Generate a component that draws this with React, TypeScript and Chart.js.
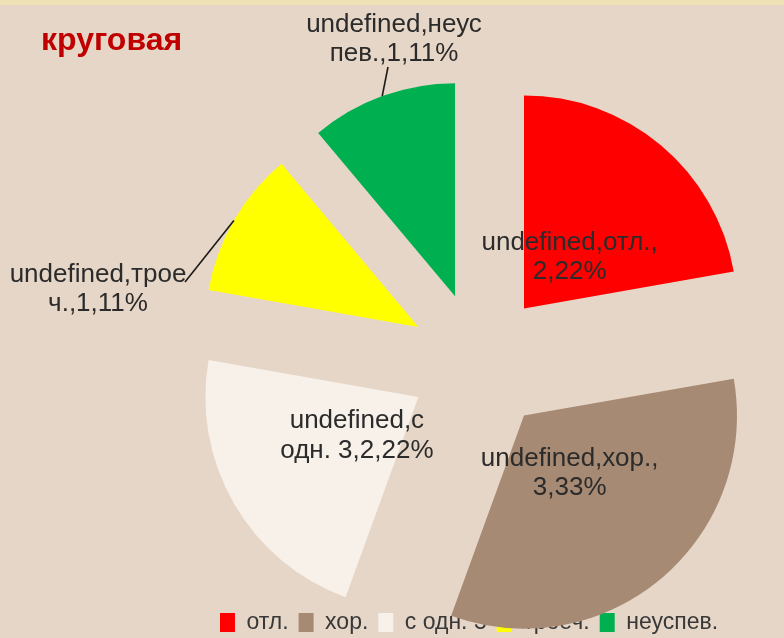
import React, { useEffect, useRef } from 'react';
import { Chart, ArcElement, PieController, registerables } from 'chart.js';

// ---- data ----
const chartTitle = 'круговая';
const seriesName = 'undefined';
const categories = ['отл.', 'хор.', 'с одн. 3', 'троеч.', 'неуспев.'];
const values = [2, 3, 2, 1, 1];
const sliceColors = ['#FF0000', '#A68A74', '#F8F1EA', '#FFFF00', '#00B050'];

// ---- style ----
const FONT = '"Liberation Sans", Arial, Helvetica, sans-serif';
const BG = '#E6D6C7';
const LABEL_COLOR = '#2b2b2b';
const LABEL_SIZE = 26;
const LABEL_LINE = 29.5;
const LABEL_DY = 3.5;
const WRAP_WIDTH = 184;

// placement of labels that sit outside their slice (relative to pie centre)
const outsidePlacement: Record<number, { label: [number, number]; lead: [number, number] }> = {
  3: { label: [-381, -76], lead: [-294, -80] },
  4: { label: [-85, -326], lead: [-91, -295] },
};

// Exploded slice: translate by full offset, keep radius and angle.
class ExplodedArc extends ArcElement {
  static id = 'explodedArc';
  draw(ctx: CanvasRenderingContext2D) {
    const self = this as any;
    const { x, y, startAngle, endAngle, outerRadius } = self;
    const opts = self.options;
    const shift = opts.offset || 0;
    const mid = (startAngle + endAngle) / 2;
    ctx.save();
    ctx.translate(Math.cos(mid) * shift, Math.sin(mid) * shift);
    ctx.beginPath();
    ctx.moveTo(x, y);
    ctx.arc(x, y, outerRadius, startAngle, endAngle);
    ctx.closePath();
    ctx.fillStyle = opts.backgroundColor;
    ctx.fill();
    ctx.restore();
  }
}

class ExplodedPieController extends PieController {
  static id = 'explodedPie';
  static defaults = { dataElementType: 'explodedArc' };
}

Chart.register(...registerables, ExplodedArc as any, ExplodedPieController as any);

function wrapText(ctx: CanvasRenderingContext2D, text: string, maxW: number): string[] {
  const lines: string[] = [];
  let line = '';
  for (const ch of Array.from(text)) {
    const test = line + ch;
    if (line && ctx.measureText(test).width > maxW) {
      const sp = line.lastIndexOf(' ');
      if (sp > 0) {
        lines.push(line.slice(0, sp));
        line = line.slice(sp + 1) + ch;
      } else {
        lines.push(line);
        line = ch;
      }
    } else {
      line = test;
    }
  }
  if (line) lines.push(line);
  return lines;
}

const labelPlugin = {
  id: 'sliceLabels',
  afterDatasetsDraw(chart: any) {
    const ctx: CanvasRenderingContext2D = chart.ctx;
    const meta = chart.getDatasetMeta(0);
    const total = values.reduce((a, b) => a + b, 0);
    ctx.save();
    ctx.font = `${LABEL_SIZE}px ${FONT}`;
    ctx.fillStyle = LABEL_COLOR;
    ctx.textAlign = 'center';
    ctx.textBaseline = 'middle';
    meta.data.forEach((arc: any, i: number) => {
      const { x, y, startAngle, endAngle, outerRadius } = arc;
      const off = arc.options.offset || 0;
      const mid = (startAngle + endAngle) / 2;
      const pct = Math.round((values[i] / total) * 100);
      const text = `${seriesName},${categories[i]},${values[i]},${pct}%`;
      const lines = wrapText(ctx, text, WRAP_WIDTH);
      let cx: number;
      let cy: number;
      const place = outsidePlacement[i];
      if (place) {
        cx = x + place.label[0];
        cy = y + place.label[1];
        const r = off + outerRadius;
        ctx.save();
        ctx.strokeStyle = '#1a1a1a';
        ctx.lineWidth = 1.6;
        ctx.beginPath();
        ctx.moveTo(x + Math.cos(mid) * r, y + Math.sin(mid) * r);
        ctx.lineTo(x + place.lead[0], y + place.lead[1]);
        ctx.stroke();
        ctx.restore();
      } else {
        const d = off + outerRadius / 3;
        cx = x + Math.cos(mid) * d;
        cy = y + Math.sin(mid) * d;
      }
      lines.forEach((ln, k) => {
        ctx.fillText(ln, cx, cy + LABEL_DY + (k - (lines.length - 1) / 2) * LABEL_LINE);
      });
    });
    ctx.restore();
  },
};

const titlePlugin = {
  id: 'slideTitle',
  afterDraw(chart: any) {
    const ctx: CanvasRenderingContext2D = chart.ctx;
    ctx.save();
    ctx.font = `bold 32px ${FONT}`;
    ctx.fillStyle = '#C00000';
    ctx.textAlign = 'left';
    ctx.textBaseline = 'alphabetic';
    ctx.fillText(chartTitle, 41, 50);
    ctx.restore();
  },
};

export default function App() {
  const ref = useRef<HTMLCanvasElement>(null);
  useEffect(() => {
    if (!ref.current) return;
    const chart = new Chart(ref.current, {
      type: 'explodedPie' as any,
      data: {
        labels: categories,
        datasets: [
          {
            data: values,
            backgroundColor: sliceColors,
            borderWidth: 0,
            offset: 70,
            radius: 213,
            clip: false,
          } as any,
        ],
      },
      options: {
        responsive: false,
        animation: false,
        events: [],
        layout: { padding: { left: 154, right: 0, top: 123, bottom: -6 } },
        plugins: {
          tooltip: { enabled: false },
          title: { display: false },
          // empty spacer box on the left so the legend sits slightly left of the pie centre
          subtitle: {
            display: true,
            position: 'left',
            text: '',
            font: { size: 10, lineHeight: 1 },
            padding: 5,
          },
          legend: {
            display: true,
            position: 'bottom',
            labels: {
              boxWidth: 15,
              boxHeight: 19,
              padding: 10,
              color: '#383838',
              font: { size: 23, family: FONT },
            },
          },
        },
      } as any,
      plugins: [labelPlugin, titlePlugin],
    });
    return () => chart.destroy();
  }, []);

  return (
    <div
      style={{
        position: 'fixed',
        left: 0,
        top: 0,
        width: 784,
        height: 638,
        background: BG,
        overflow: 'hidden',
      }}
    >
      <div style={{ position: 'absolute', left: 0, top: 0, width: 784, height: 5, background: '#EFE1B6' }} />
      <canvas ref={ref} width={784} height={638} style={{ display: 'block', position: 'absolute', left: 0, top: 0 }} />
    </div>
  );
}
